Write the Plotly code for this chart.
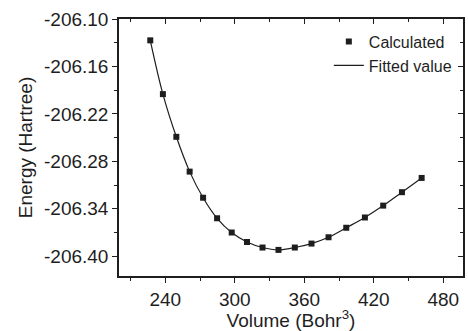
import plotly.graph_objects as go

volume = [227.0, 237.9, 249.5, 261.0, 272.6, 284.7, 297.3, 310.5, 323.9, 337.7,
          351.8, 366.2, 380.9, 396.2, 412.3, 428.1, 444.3, 461.3]
energy = [-206.127, -206.195, -206.249, -206.293, -206.326, -206.352, -206.370, -206.382,
          -206.389, -206.392, -206.389, -206.384, -206.376, -206.364, -206.351, -206.336,
          -206.319, -206.301]

x_ticks = [240, 300, 360, 420, 480]
y_ticks = [-206.40, -206.34, -206.28, -206.22, -206.16, -206.10]
y_tick_text = ["-206.40", "-206.34", "-206.28", "-206.22", "-206.16", "-206.10"]

FONT = "Liberation Sans, Arial, sans-serif"
INK = "#1e1e1e"

fig = go.Figure()
fig.add_trace(go.Scatter(
    x=volume, y=energy, mode="markers", name="Calculated",
    marker=dict(symbol="square", size=6, color=INK),
))
fig.add_trace(go.Scatter(
    x=volume, y=energy, mode="lines", name="Fitted value",
    line=dict(color=INK, width=1.2, shape="spline"),
))
# mirror axes with inward ticks (top / right)
fig.add_trace(go.Scatter(x=[], y=[], xaxis="x2", yaxis="y2", showlegend=False, hoverinfo="skip"))

xr = [200, 497]
yr = [-206.425, -206.10]

axis_common = dict(showgrid=False, zeroline=False, showline=True, linecolor=INK, linewidth=1.5,
                   tickcolor=INK, tickwidth=1.2, ticklen=5,
                   tickfont=dict(family=FONT, size=19, color=INK))

fig.update_layout(
    width=468, height=331,
    margin=dict(l=119, r=5, t=19, b=55),
    paper_bgcolor="white", plot_bgcolor="white",
    font=dict(family=FONT, color=INK),
    xaxis=dict(range=xr, tickmode="array", tickvals=x_ticks, ticks="outside",
               minor=dict(dtick=30, tick0=210, ticks="outside", ticklen=3, tickcolor=INK, tickwidth=1.2),
               title=dict(text="Volume (Bohr<sup>3</sup>)", font=dict(family=FONT, size=19, color=INK), standoff=3),
               **axis_common),
    yaxis=dict(range=yr, tickmode="array", tickvals=y_ticks, ticktext=y_tick_text, ticks="outside",
               minor=dict(dtick=0.03, tick0=-206.10, ticks="outside", ticklen=3, tickcolor=INK, tickwidth=1.2),
               title=dict(text="Energy (Hartree)", font=dict(family=FONT, size=19, color=INK), standoff=6),
               **axis_common),
    xaxis2=dict(range=xr, overlaying="x", side="top", anchor="y2", tickmode="array", tickvals=x_ticks,
                ticks="inside", showticklabels=False,
                minor=dict(dtick=30, tick0=210, ticks="inside", ticklen=3, tickcolor=INK, tickwidth=1.2),
                **axis_common),
    yaxis2=dict(range=yr, overlaying="y", side="right", anchor="x2", tickmode="array", tickvals=y_ticks,
                ticks="inside", showticklabels=False,
                minor=dict(dtick=0.03, tick0=-206.10, ticks="inside", ticklen=3, tickcolor=INK, tickwidth=1.2),
                **axis_common),
    legend=dict(x=0.61, y=0.978, xanchor="left", yanchor="top", bgcolor="rgba(0,0,0,0)",
                font=dict(family=FONT, size=16, color=INK), tracegroupgap=0, itemwidth=30),
    showlegend=True,
)

fig.write_html("out.html", config={"displayModeBar": False},
               post_script="document.body.style.margin='0';")
